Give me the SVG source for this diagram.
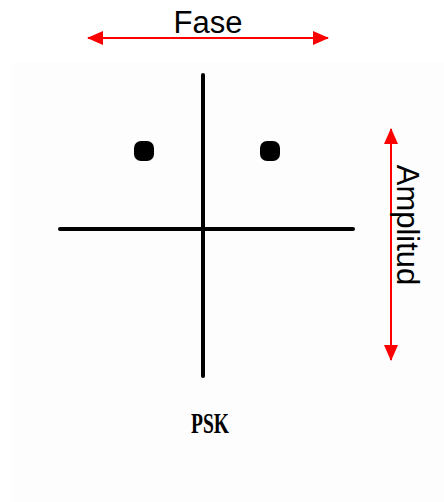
<svg xmlns="http://www.w3.org/2000/svg" width="444" height="502" viewBox="0 0 444 502">
  <style>
    .axis { stroke: #000; stroke-width: 4; stroke-linecap: round; fill: none; }
    .dim { stroke: #ff0000; stroke-width: 2; fill: none; }
    .lbl { font-family: "Liberation Sans", Arial, sans-serif; font-size: 31px; fill: #000; }
    .psk { font-family: "Liberation Serif", "Times New Roman", serif; font-weight: bold; font-size: 29px; fill: #000; }
  </style>
  <defs>
    <marker id="ah" viewBox="0 0 16 14" refX="15" refY="7" markerWidth="16" markerHeight="14" markerUnits="userSpaceOnUse" orient="auto-start-reverse">
      <path d="M0,0 L16,7 L0,14 Z" fill="#ff0000"/>
    </marker>
  </defs>
  <rect x="0" y="0" width="444" height="502" fill="#ffffff"/>
  <rect x="12" y="62" width="432" height="440" fill="#fdfdfd"/>
  <g id="axes">
    <line class="axis" x1="203" y1="75" x2="203" y2="376"/>
    <line class="axis" x1="60" y1="229" x2="353" y2="229"/>
  </g>
  <g id="point-left">
    <rect x="134" y="141" width="20" height="20" rx="7" fill="#000"/>
  </g>
  <g id="point-right">
    <rect x="260" y="141" width="20" height="20" rx="7" fill="#000"/>
  </g>
  <g id="connectors">
    <line class="dim" x1="88" y1="38" x2="328" y2="38" marker-start="url(#ah)" marker-end="url(#ah)"/>
    <line class="dim" x1="391" y1="129" x2="391" y2="360" marker-start="url(#ah)" marker-end="url(#ah)"/>
  </g>
  <g id="label-fase">
    <text class="lbl" x="208" y="33" text-anchor="middle">Fase</text>
  </g>
  <g id="label-amplitud">
    <text class="lbl" transform="translate(397,225) rotate(90)" text-anchor="middle">Amplitud</text>
  </g>
  <g id="label-psk">
    <text class="psk" x="191" y="433" textLength="38" lengthAdjust="spacingAndGlyphs">PSK</text>
  </g>
</svg>
